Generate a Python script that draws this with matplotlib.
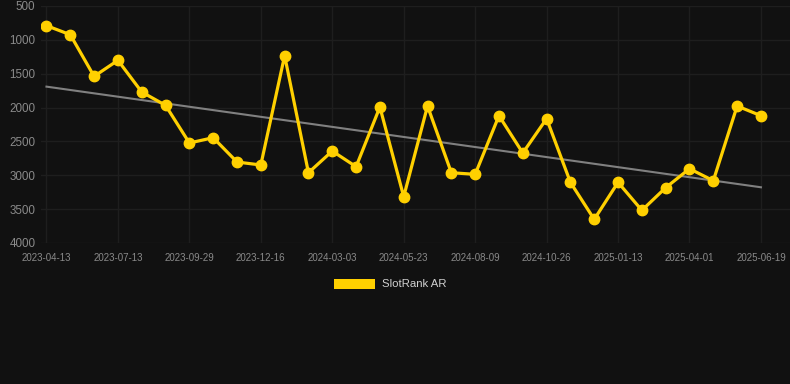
import matplotlib
matplotlib.use("Agg")
import matplotlib.pyplot as plt
import numpy as np
from matplotlib.patches import Patch

plt.rcParams['font.family'] = ['Liberation Sans', 'DejaVu Sans']

series_name = "SlotRank AR"
ranks = [790, 924, 1539, 1302, 1770, 1967, 2523, 2445, 2804, 2848,
         1234, 2962, 2642, 2873, 1992, 3316, 1977, 2962, 2986, 2120,
         2671, 2164, 3104, 3651, 3104, 3518, 3183, 2903, 3080, 1977, 2120]
tick_labels = ["2023-04-13", "2023-07-13", "2023-09-29", "2023-12-16", "2024-03-03",
               "2024-05-23", "2024-08-09", "2024-10-26", "2025-01-13", "2025-04-01",
               "2025-06-19"]
y_ticks = [500, 1000, 1500, 2000, 2500, 3000, 3500, 4000]

bg = "#111111"
fig = plt.figure(figsize=(7.9, 3.84), dpi=100, facecolor=bg)
ax = fig.add_axes([41/790, (384-243)/384, 749/790, 237/384], facecolor=bg)

x = np.arange(len(ranks))
coef = np.polyfit(x, ranks, 1)
ax.plot(x, np.polyval(coef, x), color="#808080", lw=1.5, zorder=2)
ax.plot(x, ranks, color="#FFD000", lw=2.3, marker="o", ms=7.5, zorder=3)

ax.set_ylim(4000, 500)
ax.set_xlim(-0.23, len(ranks) - 1 + 1.22)
ax.set_yticks(y_ticks)
ax.set_xticks(x[::3])
ax.set_xticklabels(tick_labels)
ax.grid(True, color="#1e1e1e", lw=1.0, zorder=0)
for s in ax.spines.values():
    s.set_visible(False)
ax.tick_params(axis='y', length=0, pad=4, labelsize=8.4, labelcolor="#8a8a8a")
ax.tick_params(axis='x', length=0, pad=7, labelsize=7, labelcolor="#8a8a8a")

leg = fig.legend(handles=[Patch(facecolor="#FFD000", edgecolor="none", label=series_name)],
                 loc="center", bbox_to_anchor=(390/790, 1 - 284/384), frameon=False,
                 handlelength=3.6, handleheight=1.0, handletextpad=0.6, fontsize=8.2)
for t in leg.get_texts():
    t.set_color("#d0d0d0")

fig.savefig("out.png", dpi=100, facecolor=bg)
